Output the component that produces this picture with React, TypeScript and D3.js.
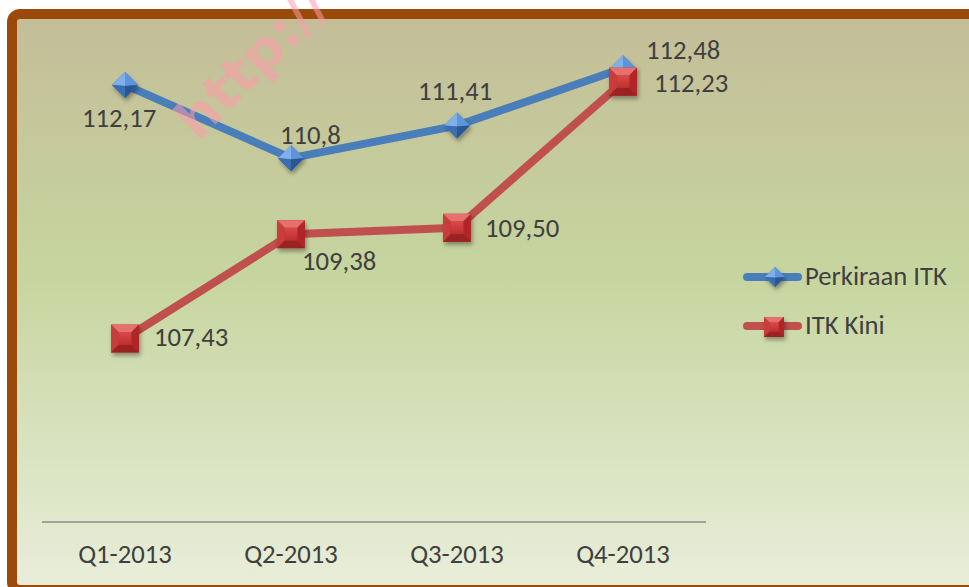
import React from "react";
import * as d3 from "d3";

const categories = ["Q1-2013", "Q2-2013", "Q3-2013", "Q4-2013"];
const perkiraanITK = [112.17, 110.8, 111.41, 112.48];
const itkKini = [107.43, 109.38, 109.5, 112.23];
const perkiraanLabels = ["112,17", "110,8", "111,41", "112,48"];
const kiniLabels = ["107,43", "109,38", "109,50", "112,23"];
const seriesNames = ["Perkiraan ITK", "ITK Kini"];

// label placement (offset from the point, text-anchor start)
const perkiraanLabelOffsets = [
  [-43, 42],
  [-11, -14],
  [-39, -26],
  [23, -9],
];
const kiniLabelOffsets = [
  [29, 8],
  [11, 36],
  [28, 9],
  [31, 10],
];

const W = 969;
const H = 587;
const FONT = "Calibri, Carlito, 'Open Sans', sans-serif";
const FS = 26.67;
const BLUE = "#4a7ebb";
const RED = "#c0504d";
const TEXT = "#3f3f3f";

function Diamond({ cx, cy, r }: { cx: number; cy: number; r: number }) {
  const c = cy + r * 0.08;
  return (
    <g filter="url(#shadow)">
      <path d={`M${cx},${cy - r}L${cx + r},${cy}L${cx},${cy + r}L${cx - r},${cy}Z`} fill="#3c6fb0" />
      <path d={`M${cx},${cy - r}L${cx - r},${cy}L${cx},${c}Z`} fill="#7fb0ea" />
      <path d={`M${cx},${cy - r}L${cx + r},${cy}L${cx},${c}Z`} fill="#5d95d8" />
      <path d={`M${cx - r},${cy}L${cx},${cy + r}L${cx},${c}Z`} fill="#3a6eb0" />
      <path d={`M${cx + r},${cy}L${cx},${cy + r}L${cx},${c}Z`} fill="#2b5694" />
    </g>
  );
}

function Square({ cx, cy, r }: { cx: number; cy: number; r: number }) {
  const i = r * 0.45;
  return (
    <g filter="url(#shadow)">
      <rect x={cx - r} y={cy - r} width={2 * r} height={2 * r} fill="#c0302e" />
      <path d={`M${cx - r},${cy - r}L${cx + r},${cy - r}L${cx + i},${cy - i}L${cx - i},${cy - i}Z`} fill="#e5706e" />
      <path d={`M${cx - r},${cy - r}L${cx - i},${cy - i}L${cx - i},${cy + i}L${cx - r},${cy + r}Z`} fill="#c83c3a" />
      <path d={`M${cx + r},${cy - r}L${cx + i},${cy - i}L${cx + i},${cy + i}L${cx + r},${cy + r}Z`} fill="#b02826" />
      <path d={`M${cx - r},${cy + r}L${cx - i},${cy + i}L${cx + i},${cy + i}L${cx + r},${cy + r}Z`} fill="#9a2221" />
      <rect x={cx - i} y={cy - i} width={2 * i} height={2 * i} fill="url(#sqCenter)" />
    </g>
  );
}

export default function App() {
  const x = d3.scaleBand<string>().domain(categories).range([42, 706]).padding(0);
  const y = d3.scaleLinear().domain([104, 113.5]).range([522, 13.75]);
  const cx = (c: string) => (x(c) as number) + x.bandwidth() / 2;

  const line = d3
    .line<number>()
    .x((_, i) => cx(categories[i]))
    .y((v) => y(v));

  return (
    <svg width={W} height={H} style={{ position: "absolute", left: 0, top: 0 }}>
      <defs>
        <linearGradient id="bg" x1="0" y1="0" x2="0" y2="1">
          <stop offset="0%" stopColor="#c4bd98" />
          <stop offset="45%" stopColor="#c6d59f" />
          <stop offset="100%" stopColor="#e9eeda" />
        </linearGradient>
        <linearGradient id="sqCenter" x1="0" y1="0" x2="0" y2="1">
          <stop offset="0%" stopColor="#d64a48" />
          <stop offset="100%" stopColor="#c0302e" />
        </linearGradient>
        <filter id="shadow" x="-50%" y="-50%" width="200%" height="200%">
          <feDropShadow dx="1.5" dy="3" stdDeviation="2" floodColor="#000" floodOpacity="0.35" />
        </filter>
      </defs>
      <rect x={0} y={0} width={W} height={H} fill="#ffffff" />
      <rect x={12} y={14} width={1000} height={576} rx={8} fill="url(#bg)" stroke="#9b4a0c" strokeWidth={10} />

      {/* axis */}
      <line x1={42} x2={706} y1={522} y2={522} stroke="#8c8c8c" strokeWidth={1.5} />
      {categories.map((c) => (
        <text key={c} x={cx(c)} y={563} textAnchor="middle" fontFamily={FONT} fontSize={FS} fill={TEXT}>
          {c}
        </text>
      ))}

      {/* lines */}
      <path d={line(perkiraanITK) || ""} fill="none" stroke={BLUE} strokeWidth={8} strokeLinejoin="round" strokeLinecap="round" />
      <path d={line(itkKini) || ""} fill="none" stroke={RED} strokeWidth={8} strokeLinejoin="round" strokeLinecap="round" />

      {perkiraanITK.map((v, i) => (
        <Diamond key={"d" + i} cx={cx(categories[i])} cy={y(v)} r={13} />
      ))}
      {itkKini.map((v, i) => (
        <Square key={"s" + i} cx={cx(categories[i])} cy={y(v)} r={14} />
      ))}

      {perkiraanITK.map((v, i) => (
        <text
          key={"pl" + i}
          x={cx(categories[i]) + perkiraanLabelOffsets[i][0]}
          y={y(v) + perkiraanLabelOffsets[i][1]}
          fontFamily={FONT}
          fontSize={FS}
          fill={TEXT}
        >
          {perkiraanLabels[i]}
        </text>
      ))}
      {itkKini.map((v, i) => (
        <text
          key={"kl" + i}
          x={cx(categories[i]) + kiniLabelOffsets[i][0]}
          y={y(v) + kiniLabelOffsets[i][1]}
          fontFamily={FONT}
          fontSize={FS}
          fill={TEXT}
        >
          {kiniLabels[i]}
        </text>
      ))}

      {/* legend */}
      <g>
        <line x1={747} x2={798} y1={277} y2={277} stroke={BLUE} strokeWidth={8} strokeLinecap="round" />
        <Diamond cx={775} cy={277} r={10} />
        <text x={805} y={285} fontFamily={FONT} fontSize={FS} fill={TEXT}>
          {seriesNames[0]}
        </text>
        <line x1={747} x2={798} y1={326} y2={326} stroke={RED} strokeWidth={8} strokeLinecap="round" />
        <Square cx={774} cy={327} r={10} />
        <text x={805} y={334} fontFamily={FONT} fontSize={FS} fill={TEXT}>
          {seriesNames[1]}
        </text>
      </g>

      {/* watermark */}
      <text
        x={198}
        y={142}
        transform="rotate(-45 198 142)"
        fontFamily="'DejaVu Sans', Verdana, sans-serif"
        fontWeight="bold"
        fontSize={54}
        fill="#ff9aaa"
        fillOpacity={0.55}
      >
        http://
      </text>
    </svg>
  );
}
